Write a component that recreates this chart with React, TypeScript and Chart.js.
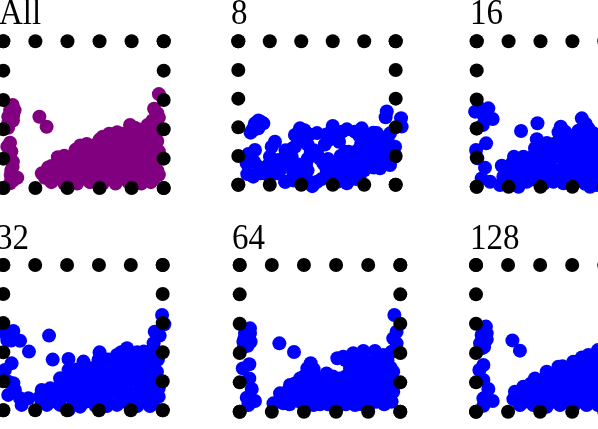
import React, { useEffect, useRef } from "react";
import { Chart, registerables } from "chart.js";

Chart.register(...registerables);

const tickValues = [0, 20, 40, 60, 80, 100];

const pointsAll = [
  [5.8,56.6],[4.2,53.2],[6.2,49.8],[3.1,48.6],[3.1,44.5],[2.5,41.4],[4.2,30.9],[2.5,28.2],[4.2,21.8],[5.8,14.5],[4.6,8.9],[8.7,7],[4.2,3.2],
  [7,53],[6,46],[3,41],[6,18],[5,25],[5,12],[6,5],
  [22.5,48.6],[27,41.8],
  [30,4],[38,3],[46,3],[54,4],[62,3],[70,3],[78,4],[86,3],[92,4],[97,9],
  [24,10],[32,11],[40,10],[48,12],[56,10],[64,11],[72,10],[80,11],[88,10],[96,12],
  [30,15],[38,18],[46,18],[54,18],[62,18],[70,18],[78,18],[86,18],[94,18],
  [38,22],[45,26],[52,25],[60,25],[68,25],[76,25],[84,25],[92,25],[97,25],
  [52,30],[60,33],[68,33],[76,33],[84,33],[92,33],[96,32],
  [62,35],[71,38],[79,43],[84,40],[90,43],[95,40],[92,37],
  [96,51],[94,54],[97,48],[97,64],
  [26,7],[34,7],[42,7],[50,7],[58,7],[66,7],[74,7],[82,7],[90,7],[94,7],
  [28,14],[36,14],[44,14],[52,14],[60,14],[68,14],[76,14],[84,14],[92,14],
  [34,21],[42,21],[50,21],[58,21],[66,21],[74,21],[82,21],[90,21],[96,21],
  [48,29],[56,29],[64,29],[72,29],[80,29],[88,29],[94,29],
  [66,37],[74,37],[80,37],[88,37],[94,37],[82,41],[92,41],[93,46],[96,44],
];

const points8 = [
  [12.7,44.7],[10.6,42.8],[15.9,42.8],[9.5,39.3],[7.8,36.3],[12.7,39.3],[11,41],[14,44],[9,37.5],
  [10.6,24.2],[6.4,21.4],[5.3,14.9],[5.7,7.4],[9.5,5.6],[12.7,12.6],[23.3,30],[21.2,26.5],[20.1,19.5],[18,12.6],[20.1,5.6],[25.4,17.2],[29.7,2],[26.5,10.2],[33.9,19.5],[36,26.5],[39.2,39.3],[36,34.7],
  [60,41],[69,38.6],[78.4,39.3],[85.8,36.3],[94.3,51],[93.6,47],[103.4,46.3],[103.8,40.5],[96.4,35.8],
  [99.6,26.5],[99.6,19.5],[96.4,13.7],[90,11.4],[77.3,6.7],
  [45,35],[50,36],[56,35],[62,34],[66,37],[74,37],[90,33],[44,28],[55,28],[57,31],[64,30],[80,30],[86,28],[92,28],
  [95,20],[88,20],[82,22],[76,24],[70,23],[65,20],[50,22],[44,18],[38,14],[44,10],[54,15],[60,14],[68,15],[74,15],[82,14],
  [35,8],[40,5],[47,-1],[50,2],[56,7],[60,3],[66,6],[72,8],[69,1],[30,2],
  [42,38],[41,33],[59,37],[77,34],[83,33],[88,36],[94,32],[96,28],[90,24],[84,26],[78,28],[68,23],
  [72,18],[78,19],[84,18],[90,16],[94,24],[57,18],[52,18],[48,24],[46,22],[43,14],[34,25],[30,24],[30,15],[34,12],[38,9],
  [56,11],[62,10],[68,10],[74,11],[80,10],[86,12],[80,18],[44,3],[53,4],[63,2],[75,4],[35,3],[25,8],[14,8],[12,8],[10,16],[16,8],[20,15],
];

const points16 = [
  [-1,51.6],[2.1,53.9],[7.3,53.9],[4.2,49.3],[10,46.6],[3.8,42.4],[0,40.1],[5.9,29.8],[-0.4,25.2],[0.4,19.5],[5.2,13.1],[3.1,5.7],[8.4,3.4],[15.7,14.4],
  [27.8,38.3],[38.1,43.6],[37.7,32.6],[65.9,47],[68.4,43.1],[52.7,41.3],[51.3,37.4],[55.4,37.8],[48.1,29.4],[63.8,38.5],[69,36.7],[73.2,36.7],
  [23.4,20.6],[29.3,20.6],[22,16],[16.7,6.9],[26.2,0],[14.6,1.1],[20.9,9.2],[27.2,13.8],[33.5,18.3],[36.6,26.4],[41.8,20.6],[48.1,25.2],[54.4,27.5],[60.7,32.1],[66.9,32.1],[73.2,29.8],
  [39.7,13.8],[33.5,9.2],[46,16],[52.3,20.6],[58.6,22.9],[64.9,25.2],[71.1,22.9],[50.2,9.2],[43.9,6.9],[37.7,4.6],[31.4,3.4],[48.1,3.4],[56.5,9.2],[62.8,16],[69,16],[75.3,18.3],
  [60.7,2.3],[66.9,6.9],[73.2,9.2],[71.1,0],[75.3,1.1],[54.4,2.3],[78,34],[78,24],[78,10],
  [24,5],[30,8],[35,14],[25,10],[30,17],[36,22],[40,27],[44,25],[45,20],[50,22],[55,18],[60,19],[57,25],[62,28],[68,28],[70,32],[75,26],[76,30],[70,20],[74,14],
  [66,20],[66,12],[60,12],[54,13],[48,12],[42,11],[38,9],[34,5],[42,2],[46,7],[52,5],[58,5],[63,4],[68,2],[76,6],[78,14],[73,4],[44,30],[52,33],[58,35],[64,35],
  [70,40],[73,33],[57,30],[50,28],[40,17],[28,8],[21,3],[18,3],
];

const points32 = [
  [99.6,65.6],[101,59.2],[95,54.1],[98.1,51.4],[94.3,46.1],
  [6.3,54.6],[2.5,48.4],[-1,54.1],[10.5,47.9],[16.1,40.4],[28.7,51.4],[31,34.9],[5.2,32.3],[1,27.8],[3.1,19.7],[6.3,18.6],[7.3,14],[3.1,10.6],[10.5,8.3],[11.5,3.7],[15.7,8.3],
  [40.9,35.3],[50.3,33.5],[60.4,39.9],[59.7,34.6],[71.3,38.1],[77.6,42.7],[88.1,40.4],[94.3,42.7],
  [24.1,14],[29.4,15.1],[35.6,22],[40.9,27.8],[45.1,24.3],[54.5,28.9],
  [27.3,3.7],[35.6,3.7],[40.9,0.2],[48.2,2.5],[60.8,6],[71.3,3.7],[90.1,6],[97.5,9.4],
  [23,9.4],[29.4,9.4],[39.8,10.6],[48.2,10.6],[56.6,10.6],[65,10.6],[73.4,10.6],[81.8,10.6],[90.1,12.8],[97.5,15.1],
  [35.6,17.4],[44,17.4],[52.4,17.4],[60.8,17.4],[69.2,17.4],[77.6,17.4],[86,17.4],[94.3,19.7],
  [48.2,24.3],[56.6,24.3],[65,24.3],[73.4,24.3],[81.8,24.3],[90.1,24.3],[96.4,26.6],
  [60.8,31.2],[69.2,31.2],[77.6,31.2],[86,31.2],[94.3,31.2],[96.4,38.1],[86,35.8],[71.3,33.5],[79.7,38.1],
  [4,52],[5,48],
  [24,6],[33,6],[44,6],[52,6],[66,6],[76,6],[84,6],[94,6],
  [34,14],[42,14],[50,14],[58,14],[62,14],[70,14],[78,14],[86,14],[92,14],
  [40,21],[46,21],[52,21],[60,21],[68,21],[76,21],[84,21],[92,21],[97,21],
  [46,28],[52,28],[60,28],[68,28],[76,28],[84,28],[92,28],
  [64,35],[66,35],[74,35],[82,35],[90,35],[97,35],[74,40],[84,40],[92,40],
  [58,3],[65,3],[80,3],[84,3],[92,3],
];

const points64 = [
  [6.4,56.8],[3.3,53.4],[6.4,53.4],[2.3,47.7],[6.8,47.7],[2.7,44.3],[6,32.3],[1.9,29.5],[6,22.7],[7.5,15.5],[4.4,9.5],[9.5,7.3],[5.4,4.5],[3,50],[5,50],[5,45],
  [24.7,46.6],[33.8,40.7],[96.3,65.9],[97.7,54.5],[95.6,50],[97.7,46.6],
  [60.8,36.4],[64.5,37.5],[70.7,39.8],[77,41.4],[84.2,41.4],[89.4,38.6],[94.6,40.9],
  [44.2,33],[42.1,29.5],[37.6,22.7],[31.3,18.2],[25.1,12.5],[21,5.7],[54.1,26.1],
  [50,22.7],[43.8,22.7],[37.6,15.9],[31.3,11.4],[27.2,5.7],[37.6,6.8],[45.9,13.6],[56.2,18.2],[62.4,22.7],[68.7,29.5],[74.9,34.1],[83.2,34.1],[91.5,31.8],[95.6,27.3],[96.7,20.5],[95.6,13.6],[94.6,6.8],
  [85.3,27.3],[77,25],[70.7,20.5],[64.5,13.6],[54.1,9.1],[45.9,4.5],[62.4,5.7],[71.8,4.5],[79,11.4],[87.3,13.6],[85.3,6.8],[81.1,18.2],[89.4,20.5],[58.3,11.4],
  [31,5],[40,5],[50,5],[55,5],[66,5],[76,5],[81,5],[90,5],
  [26,9],[34,9],[42,9],[48,9],[62,9],[68,9],[74,9],[82,9],[90,9],
  [30,14],[34,14],[42,14],[52,14],[58,14],[70,14],[76,14],[84,14],[92,14],
  [34,19],[42,19],[48,19],[52,19],[62,19],[66,19],[74,19],[86,19],[92,19],
  [40,24],[46,24],[54,24],[58,24],[66,24],[72,24],[80,24],[88,24],[93,24],
  [46,29],[72,30],[78,30],[84,30],[90,30],[94,30],
  [66,35],[70,35],[78,35],[86,35],[92,35],
];

const points128 = [
  [6.2,58],[3.5,52.3],[6.7,53.4],[6.7,49.3],[2.5,46.6],[3.5,43.2],[4.6,31.8],[2.1,28.4],[4.6,21.6],[7.7,15.5],[4.6,9.1],[10.4,7.3],[4.6,4.1],[22.7,48.6],[27.4,41.6],
  [5,55],[4,48],[5,44],
  [24.3,13.6],[29.5,17],[36.8,22.7],[44.1,27.3],[51.4,30.7],[60.7,34.1],[70.1,38.6],[76.1,42],[23.3,8.6],
  [27.4,4.5],[35.8,4.5],[44.1,3.4],[52.4,4.5],[60.7,3.4],[69,4.5],[76.1,4.5],[31.6,10.2],[39.9,10.2],[48.2,10.2],[56.5,10.2],[64.9,10.2],[73.2,10.2],
  [37.8,15.9],[46.2,15.9],[54.5,15.9],[62.8,15.9],[71.1,15.9],[76.1,15.9],[48.2,21.6],[56.5,21.6],[64.9,21.6],[73.2,21.6],[56.5,27.3],[64.9,27.3],[73.2,27.3],[76.1,34.1],[66.9,33],
  [26,7],[31,7],[36,7],[40,7],[44,7],[48,7],[52,7],[56,7],[60,7],[65,7],[69,7],[73,7],[78,7],
  [28,13],[33,13],[36,13],[42,13],[50,13],[58,13],[66,13],[74,13],[78,13],
  [34,19],[42,19],[50,19],[58,19],[66,19],[75,19],
  [44,25],[52,25],[60,25],[68,25],[76,25],
  [54,31],[60,31],[68,31],[76,31],[66,37],[72,37],[77,37],
];

const frameDots = tickValues.flatMap((t) => [
  { x: t, y: 0 },
  { x: t, y: 100 },
  { x: 0, y: t },
  { x: 100, y: t },
]);

const PAD = 16;

const panels = [
  { title: "All", pts: pointsAll, color: "#800080", x0: 3.3, x1: 163.7, yTop: 41.3, yBot: 188, tx: -1, ty: -5 },
  { title: "8", pts: points8, color: "#0000ff", x0: 238.3, x1: 395.7, yTop: 41.3, yBot: 184.7, tx: 231, ty: -5 },
  { title: "16", pts: points16, color: "#0000ff", x0: 476.7, x1: 636.2, yTop: 41.3, yBot: 186.7, tx: 470, ty: -5 },
  { title: "32", pts: points32, color: "#0000ff", x0: 3.3, x1: 162.7, yTop: 265, yBot: 410.3, tx: -4, ty: 220 },
  { title: "64", pts: points64, color: "#0000ff", x0: 239.7, x1: 400.3, yTop: 265, yBot: 411.7, tx: 232, ty: 220 },
  { title: "128", pts: points128, color: "#0000ff", x0: 476, x1: 636.3, yTop: 265, yBot: 411.7, tx: 470, ty: 220 },
];

function Panel({ p }: { p: (typeof panels)[number] }) {
  const ref = useRef<HTMLCanvasElement>(null);
  const left = Math.floor(p.x0) - PAD;
  const top = Math.floor(p.yTop) - PAD;
  const width = Math.ceil(p.x1) + PAD - left;
  const height = Math.ceil(p.yBot) + PAD - top;

  useEffect(() => {
    const chart = new Chart(ref.current!, {
      type: "scatter",
      data: {
        datasets: [
          {
            data: frameDots,
            backgroundColor: "#000000",
            borderWidth: 0,
            pointRadius: 7,
            order: 0,
            clip: false,
          },
          {
            data: p.pts.map(([x, y]) => ({ x, y })),
            backgroundColor: p.color,
            borderWidth: 0,
            pointRadius: 7,
            order: 1,
            clip: false,
          },
        ],
      },
      options: {
        animation: false,
        responsive: false,
        layout: {
          padding: {
            left: p.x0 - left,
            right: left + width - p.x1,
            top: p.yTop - top,
            bottom: top + height - p.yBot,
          },
        },
        plugins: { legend: { display: false }, tooltip: { enabled: false } },
        scales: {
          x: { type: "linear", min: 0, max: 100, display: false },
          y: { type: "linear", min: 0, max: 100, display: false },
        },
      },
    } as any);
    return () => chart.destroy();
  }, []);

  return (
    <>
      <canvas
        ref={ref}
        width={width}
        height={height}
        style={{ position: "absolute", left, top, width, height }}
      />
      <div
        style={{
          position: "absolute",
          left: p.tx,
          top: p.ty,
          fontFamily: '"Liberation Serif", serif',
          fontSize: 33,
          lineHeight: "38px",
          color: "#000",
          whiteSpace: "nowrap",
          transform: "scaleY(1.08)",
          transformOrigin: "left bottom",
        }}
      >
        {p.title}
      </div>
    </>
  );
}

export default function App() {
  return (
    <div
      style={{
        position: "fixed",
        left: 0,
        top: 0,
        width: 598,
        height: 429,
        overflow: "hidden",
        background: "#fff",
        filter: "blur(0.4px)",
      }}
    >
      {panels.map((p) => (
        <Panel key={p.title} p={p} />
      ))}
    </div>
  );
}
